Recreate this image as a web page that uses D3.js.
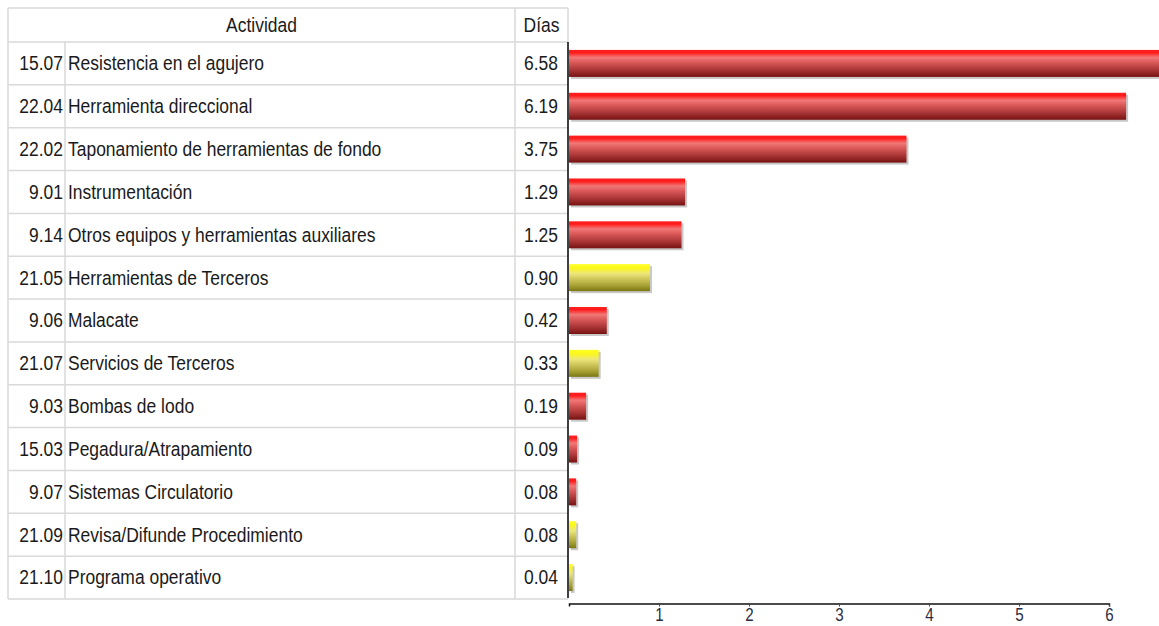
<!DOCTYPE html>
<html>
<head>
<meta charset="utf-8">
<script src="https://cdn.jsdelivr.net/npm/d3@7"></script>
<style>
  html, body { margin: 0; padding: 0; background: #fff; }
  svg { display: block; font-family: "Liberation Sans", Arial, sans-serif; }
</style>
</head>
<body>
<svg id="chart" width="1159" height="626"></svg>
<script>
const codes = ["15.07","22.04","22.02","9.01","9.14","21.05","9.06","21.07","9.03","15.03","9.07","21.09","21.10"];
const activities = [
  "Resistencia en el agujero",
  "Herramienta direccional",
  "Taponamiento de herramientas de fondo",
  "Instrumentación",
  "Otros equipos y herramientas auxiliares",
  "Herramientas de Terceros",
  "Malacate",
  "Servicios de Terceros",
  "Bombas de lodo",
  "Pegadura/Atrapamiento",
  "Sistemas Circulatorio",
  "Revisa/Difunde Procedimiento",
  "Programa operativo"
];
const days = [6.58, 6.19, 3.75, 1.29, 1.25, 0.90, 0.42, 0.33, 0.19, 0.09, 0.08, 0.08, 0.04];
const groups = ["propio","propio","propio","propio","propio","terceros","propio","terceros","propio","propio","propio","terceros","terceros"];
const headers = ["Actividad", "Días"];
const xTicks = [1, 2, 3, 4, 5, 6];

const rows = codes.map((c, i) => ({ code: c, act: activities[i], val: days[i], grp: groups[i] }));

const svg = d3.select("#chart");
const defs = svg.append("defs");

function grad(id, stops) {
  const g = defs.append("linearGradient").attr("id", id)
    .attr("x1", 0).attr("y1", 0).attr("x2", 0).attr("y2", 1);
  stops.forEach(s => g.append("stop").attr("offset", s[0]).attr("stop-color", s[1]));
}
grad("gRed", [[0, "#ff2020"], [0.1, "#ff1a1a"], [0.28, "#f27878"], [0.45, "#dc5a5a"], [0.75, "#a83434"], [1, "#761212"]]);
grad("gYel", [[0, "#ffff22"], [0.15, "#fbf61c"], [0.35, "#ece67a"], [0.55, "#cfc65a"], [0.8, "#a6a032"], [1, "#7a7614"]]);

const left = 8, colCode = 65, colDays = 515, right = 568;
const headTop = 8, bodyTop = 42, bodyBottom = 599;
const gridColor = "#d9d9d9";
const textColor = "#1a1a1a";
const sx = 0.895, fs = 19.5;

const rowScale = d3.scaleBand().domain(d3.range(rows.length)).range([bodyTop, bodyBottom]);
const barScale = d3.scaleBand().domain(d3.range(rows.length)).range([bodyTop, bodyBottom])
  .paddingInner(0.37).paddingOuter(0.185);
const x = d3.scaleLinear().domain([0, 6]).range([569, 1109]);

// ---------- table ----------
const tbl = svg.append("g");
const hLines = [headTop, bodyTop].concat(rows.map((d, i) => rowScale(i) + rowScale.bandwidth()));
tbl.selectAll("line.h").data(hLines).join("line")
  .attr("x1", left).attr("x2", right).attr("y1", d => d).attr("y2", d => d)
  .attr("stroke", gridColor).attr("stroke-width", 1.5);
tbl.append("line").attr("x1", left).attr("x2", left).attr("y1", headTop).attr("y2", bodyBottom)
  .attr("stroke", gridColor).attr("stroke-width", 1.5);
tbl.append("line").attr("x1", colCode).attr("x2", colCode).attr("y1", bodyTop).attr("y2", bodyBottom)
  .attr("stroke", gridColor).attr("stroke-width", 1.5);
tbl.append("line").attr("x1", colDays).attr("x2", colDays).attr("y1", headTop).attr("y2", bodyBottom)
  .attr("stroke", gridColor).attr("stroke-width", 1.5);
tbl.append("line").attr("x1", right).attr("x2", right).attr("y1", headTop).attr("y2", bodyTop)
  .attr("stroke", gridColor).attr("stroke-width", 1.5);

function txt(g, tx, ty, s, anchor) {
  return g.append("text")
    .attr("transform", `translate(${tx},${ty}) scale(${sx},1)`)
    .attr("text-anchor", anchor)
    .attr("dominant-baseline", "central")
    .attr("font-size", fs)
    .attr("fill", textColor)
    .text(s);
}
const headMid = (headTop + bodyTop) / 2;
txt(tbl, (left + colDays) / 2, headMid, headers[0], "middle");
txt(tbl, (colDays + right) / 2, headMid, headers[1], "middle");

rows.forEach((d, i) => {
  const cy = rowScale(i) + rowScale.bandwidth() / 2;
  txt(tbl, colCode - 2, cy, d.code, "end");
  txt(tbl, colCode + 3, cy, d.act, "start");
  txt(tbl, right - 10, cy, d.val.toFixed(2), "end");
});

// ---------- bars ----------
const bars = svg.append("g");
bars.selectAll("rect.sh").data(rows).join("rect")
  .attr("x", x(0) + 2)
  .attr("y", (d, i) => barScale(i) + 2)
  .attr("width", d => x(d.val) - x(0))
  .attr("height", barScale.bandwidth())
  .attr("fill", "#9a9a9a").attr("opacity", 0.55);
bars.selectAll("rect.bar").data(rows).join("rect")
  .attr("x", x(0))
  .attr("y", (d, i) => barScale(i))
  .attr("width", d => x(d.val) - x(0))
  .attr("height", barScale.bandwidth())
  .attr("fill", d => d.grp === "terceros" ? "url(#gYel)" : "url(#gRed)");

// ---------- axes ----------
svg.append("line").attr("x1", 568).attr("x2", 568).attr("y1", bodyTop).attr("y2", bodyBottom - 1)
  .attr("stroke", "#000").attr("stroke-width", 1.5);

const xAxis = d3.axisBottom(x).tickValues(xTicks).tickSize(3).tickSizeOuter(3).tickPadding(1)
  .tickFormat(d3.format("d"));
const ax = svg.append("g").attr("transform", "translate(0,603.5)").call(xAxis);
ax.select(".domain").attr("stroke", "#111").attr("stroke-width", 1.5);
ax.selectAll(".tick line").attr("stroke", "#444");
ax.selectAll(".tick text")
  .attr("font-family", "'Liberation Sans', Arial, sans-serif")
  .attr("font-size", 18.5)
  .attr("fill", "#2c2c44")
  .attr("transform", "scale(0.82,1)");
</script>
</body>
</html>
